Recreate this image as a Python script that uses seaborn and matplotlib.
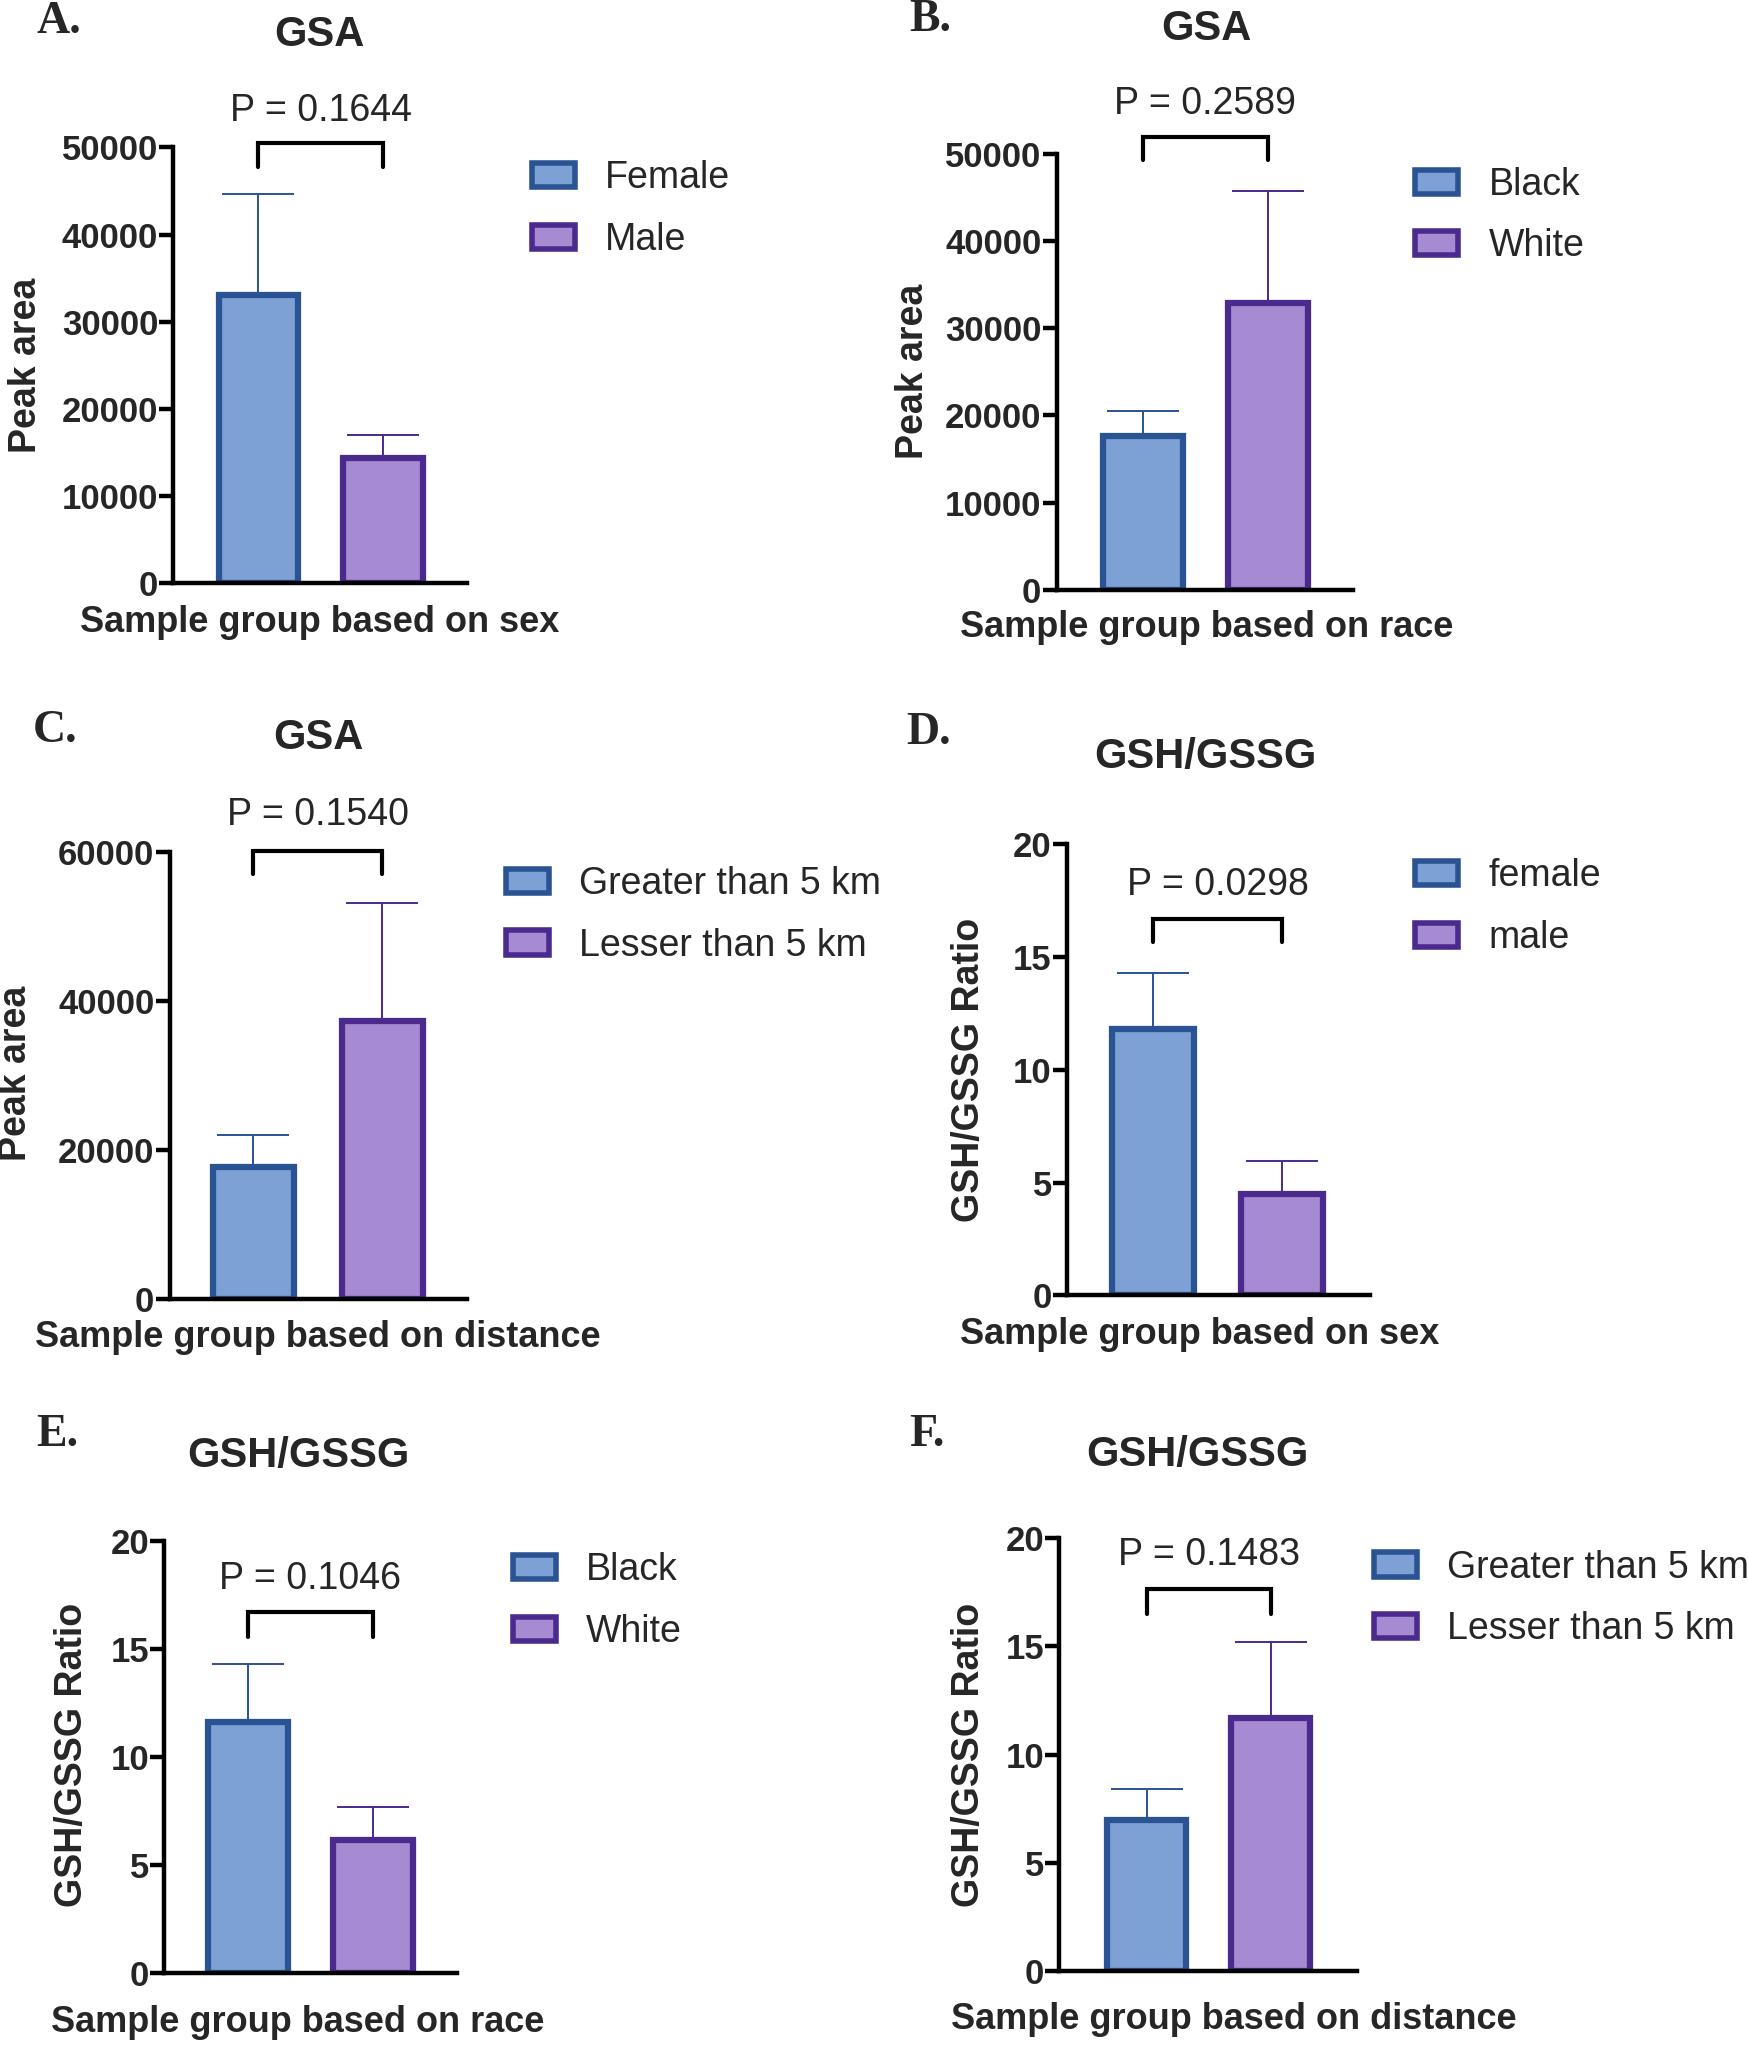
import matplotlib
matplotlib.use("Agg")
import matplotlib.pyplot as plt
from matplotlib.patches import Patch
import seaborn as sns

sns.set_theme(style="white")
plt.rcParams["font.family"] = ["Liberation Sans", "DejaVu Sans"]

# ── data ──────────────────────────────────────────────
sex_groups = ["Female", "Male"]
race_groups = ["Black", "White"]
dist_groups = ["Greater than 5 km", "Lesser than 5 km"]
sex_groups_lc = ["female", "male"]

gsa_sex_mean = [33100, 14400]
gsa_sex_err = [11500, 2600]
gsa_race_mean = [17600, 32900]
gsa_race_err = [2850, 12900]
gsa_dist_mean = [17700, 37300]
gsa_dist_err = [4300, 15800]

ratio_sex_mean = [11.8, 4.5]
ratio_sex_err = [2.5, 1.45]
ratio_race_mean = [11.6, 6.15]
ratio_race_err = [2.7, 1.5]
ratio_dist_mean = [7.0, 11.7]
ratio_dist_err = [1.4, 3.5]

p_values = ["0.1644", "0.2589", "0.1540", "0.0298", "0.1046", "0.1483"]

FILL = ["#7DA0D5", "#A68AD2"]
EDGE = ["#2A5394", "#4A2A8C"]

# display frame used to read positions off the reference
W, H = 1340, 1576

def fx(x):
    return x / W

def fy(y):
    return 1 - y / H

panels = [
    dict(letter="A.", title="GSA", groups=sex_groups, mean=gsa_sex_mean, err=gsa_sex_err,
         ymax=50000, step=10000, ylabel="Peak area", xlabel="Sample group based on sex",
         box=(133, 358, 113, 447), cx=(198, 293.5), bw=61,
         p=p_values[0], pfr=(1.084, 1.009, 0.955),
         leg=(408, 135), tpos=(245, 27), xlpos=(245, 477), ylpos=(20, 280), lpos=(28, 17)),
    dict(letter="B.", title="GSA", groups=race_groups, mean=gsa_race_mean, err=gsa_race_err,
         ymax=50000, step=10000, ylabel="Peak area", xlabel="Sample group based on race",
         box=(810, 1037, 118, 452), cx=(876, 972), bw=61,
         p=p_values[1], pfr=(1.114, 1.039, 0.985),
         leg=(1085, 140), tpos=(925, 22), xlpos=(925, 481), ylpos=(700, 285), lpos=(697, 15)),
    dict(letter="C.", title="GSA", groups=dist_groups, mean=gsa_dist_mean, err=gsa_dist_err,
         ymax=60000, step=20000, ylabel="Peak area", xlabel="Sample group based on distance",
         box=(130, 358, 653, 996), cx=(194, 293), bw=62,
         p=p_values[2], pfr=(1.082, 1.003, 0.950),
         leg=(388, 676), tpos=(244, 566), xlpos=(244, 1025), ylpos=(12, 823), lpos=(25, 560)),
    dict(letter="D.", title="GSH/GSSG", groups=sex_groups_lc, mean=ratio_sex_mean, err=ratio_sex_err,
         ymax=20, step=5, ylabel="GSH/GSSG Ratio", xlabel="Sample group based on sex",
         box=(818, 1050, 647, 993), cx=(884, 983), bw=63,
         p=p_values[3], pfr=(0.91, 0.835, 0.783),
         leg=(1085, 670), tpos=(924, 580), xlpos=(920, 1023), ylpos=(743, 820), lpos=(695, 562)),
    dict(letter="E.", title="GSH/GSSG", groups=race_groups, mean=ratio_race_mean, err=ratio_race_err,
         ymax=20, step=5, ylabel="GSH/GSSG Ratio", xlabel="Sample group based on race",
         box=(126, 350, 1181, 1512), cx=(190, 286), bw=61,
         p=p_values[4], pfr=(0.912, 0.834, 0.776),
         leg=(393, 1202), tpos=(229, 1116), xlpos=(228, 1550), ylpos=(55, 1345), lpos=(28, 1100)),
    dict(letter="F.", title="GSH/GSSG", groups=dist_groups, mean=ratio_dist_mean, err=ratio_dist_err,
         ymax=20, step=5, ylabel="GSH/GSSG Ratio", xlabel="Sample group based on distance",
         box=(812, 1040, 1179, 1511), cx=(879, 974), bw=61,
         p=p_values[5], pfr=(0.961, 0.883, 0.825),
         leg=(1053, 1200), tpos=(918, 1115), xlpos=(946, 1548), ylpos=(743, 1345), lpos=(697, 1100)),
]

fig = plt.figure(figsize=(17.48, 20.56), dpi=100)

for pn in panels:
    x0, x1, ytop, ybot = pn["box"]
    ax = fig.add_axes([fx(x0), fy(ybot), (x1 - x0) / W, (ybot - ytop) / H])
    unit = pn["cx"][1] - pn["cx"][0]

    sns.barplot(x=pn["groups"], y=pn["mean"], hue=pn["groups"], palette=FILL,
                width=pn["bw"] / unit, errorbar=None, legend=False, ax=ax,
                saturation=1, zorder=3)
    for i, patch in enumerate(ax.patches):
        patch.set_edgecolor(EDGE[i])
        patch.set_linewidth(4.5)
    for i in range(2):
        ax.errorbar(i, pn["mean"][i], yerr=[[0], [pn["err"][i]]], fmt="none",
                    ecolor=EDGE[i], elinewidth=1.4, capsize=26, capthick=1.4, zorder=2)

    ax.set_xlim((x0 - pn["cx"][0]) / unit, (x1 - pn["cx"][0]) / unit)
    ax.set_ylim(0, pn["ymax"])
    ax.set_yticks(range(0, pn["ymax"] + 1, pn["step"]))
    ax.set_xticks([])
    ax.set_xlabel("")
    ax.set_ylabel("")
    sns.despine(ax=ax)
    for s in ["left", "bottom"]:
        ax.spines[s].set_linewidth(3.2)
        ax.spines[s].set_color("black")
        ax.spines[s].set_zorder(5)
    ax.tick_params(axis="y", direction="out", length=10, width=3.2, color="black",
                   labelsize=25, pad=1, left=True)
    for lab in ax.get_yticklabels():
        lab.set_fontweight("bold")
    ax.patch.set_alpha(0)

    # significance bracket
    ptxt, btop, bbot = pn["pfr"]
    tr = ax.get_xaxis_transform()
    ax.plot([0, 0, 1, 1], [bbot, btop, btop, bbot], color="black", lw=3,
            transform=tr, clip_on=False, solid_joinstyle="miter")
    ax.text(0.5, ptxt, f"P = {pn['p']}", transform=tr, ha="center", va="center",
            fontsize=27, clip_on=False)

    handles = [Patch(facecolor=FILL[i], edgecolor=EDGE[i], linewidth=4, label=pn["groups"][i])
               for i in range(2)]
    lx, ly = pn["leg"]
    ax.legend(handles=handles, loc="upper left", bbox_to_anchor=(fx(lx), fy(ly - 12)),
              bbox_transform=fig.transFigure, frameon=False, fontsize=27,
              handlelength=1.15, handleheight=0.62, handletextpad=0.8,
              labelspacing=0.68, borderpad=0, borderaxespad=0)

    fig.text(fx(pn["tpos"][0]), fy(pn["tpos"][1]), pn["title"], ha="center", va="center",
             fontsize=30, fontweight="bold")
    fig.text(fx(pn["xlpos"][0]), fy(pn["xlpos"][1]), pn["xlabel"], ha="center", va="center",
             fontsize=26, fontweight="bold")
    fig.text(fx(pn["ylpos"][0]), fy(pn["ylpos"][1]), pn["ylabel"], ha="center", va="center",
             fontsize=27, fontweight="bold", rotation=90)
    fig.text(fx(pn["lpos"][0]), fy(pn["lpos"][1]), pn["letter"], ha="left", va="center",
             fontsize=33, fontweight="bold", family=["Liberation Serif", "DejaVu Serif"])

fig.savefig("out.png", dpi=100, facecolor="white")
